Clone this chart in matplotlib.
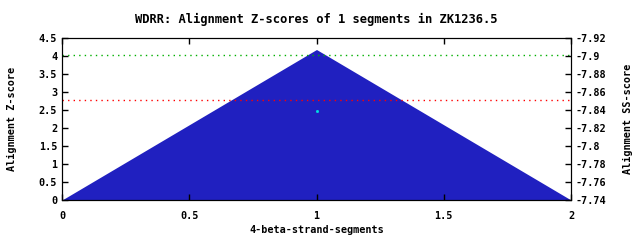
import matplotlib
matplotlib.use("Agg")
import matplotlib.pyplot as plt

x_vals = [0, 1, 2]
z_scores = [0, 4.18, 0]
green_level = 4.03
red_level = 2.77
point_x = [1]
point_y = [2.47]
xticks = [0, 0.5, 1, 1.5, 2]
yticks = [0, 0.5, 1, 1.5, 2, 2.5, 3, 3.5, 4, 4.5]
y2ticks = [-7.74, -7.76, -7.78, -7.8, -7.82, -7.84, -7.86, -7.88, -7.9, -7.92]

plt.rcParams['font.family'] = ['DejaVu Sans Mono']
plt.rcParams['font.weight'] = 'bold'
plt.rcParams['axes.titleweight'] = 'bold'
plt.rcParams['axes.labelweight'] = 'bold'
plt.rcParams['font.size'] = 7.3

fig = plt.figure(figsize=(6.4, 2.4), dpi=100)
ax = fig.add_axes([62/640, 40/240, (571-62)/640, (200-38)/240])
ax.fill_between(x_vals, z_scores, 0, color='#2020c0', linewidth=0)
ax.axhline(green_level, color='#00b000', linestyle=(0, (1, 3)), linewidth=1)
ax.axhline(red_level, color='#ff0000', linestyle=(0, (1, 3)), linewidth=1)
ax.plot(point_x, point_y, 's', color='#00e0e0', markersize=1)
ax.set_xlim(0, 2)
ax.set_ylim(0, 4.5)
ax.set_xticks(xticks)
ax.set_xticklabels([f"{t:g}" for t in xticks], fontweight='bold')
ax.set_yticks(yticks)
ax.set_yticklabels([f"{t:g}" for t in yticks], fontweight='bold')
ax.tick_params(direction='in', length=4, top=True, width=1)
ax.tick_params(axis='x', pad=8)
ax.set_xlabel('4-beta-strand-segments', labelpad=3, fontweight='bold')
ax.set_ylabel('Alignment Z-score', labelpad=16, fontweight='bold')
ax.set_title('WDRR: Alignment Z-scores of 1 segments in ZK1236.5', pad=11, fontweight='bold')

ax2 = ax.twinx()
ax2.set_ylim(-7.74, -7.92)
ax2.set_yticks(y2ticks)
ax2.set_yticklabels([f"{t:g}" for t in y2ticks], fontweight='bold')
ax2.tick_params(direction='in', length=4, width=1)
ax2.set_ylabel('Alignment SS-score', labelpad=12, fontweight='bold')

fig.savefig('out.png', dpi=100)
